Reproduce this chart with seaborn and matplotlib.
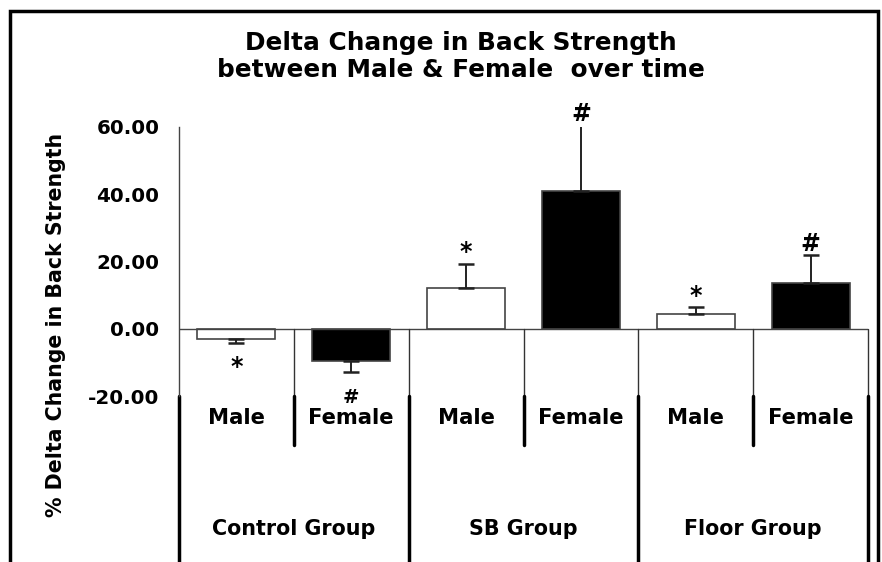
import matplotlib
matplotlib.use("Agg")
import matplotlib.pyplot as plt
import seaborn as sns
import pandas as pd
import numpy as np
from matplotlib.patches import Rectangle

groups = ["Control Group", "SB Group", "Floor Group"]
sexes = ["Male", "Female"]
values = [-2.9, -9.6, 12.2, 41.0, 4.5, 13.6]
errors = [1.3, 3.2, 7.1, 19.5, 1.9, 8.2]
marks = ["*", "#", "*", "#", "*", "#"]
yticks = [-20, 0, 20, 40, 60]

sns.set_theme(style="white")
plt.rcParams['font.family'] = ['DejaVu Sans']
plt.rcParams['text.color'] = 'black'
plt.rcParams['axes.labelcolor'] = 'black'
plt.rcParams['ytick.color'] = 'black'
plt.rcParams['xtick.color'] = 'black'

labels = [f"{g}|{s}" for g in groups for s in sexes]
df = pd.DataFrame({"cat": labels, "value": values,
                   "sex": [s for g in groups for s in sexes]})

fig = plt.figure(figsize=(8.82, 5.62), dpi=100)
ax = fig.add_axes([179/882, (562-396)/562, 689/882, (396-127)/562])

sns.barplot(data=df, x="cat", y="value", hue="sex", order=labels,
            palette={"Male": "white", "Female": "black"}, edgecolor="#444444",
            linewidth=1.2, width=0.68, dodge=False, legend=False, ax=ax)

xs = np.arange(len(values))
for x, v, e, m in zip(xs, values, errors, marks):
    if v >= 0:
        ax.errorbar(x, v, yerr=[[0], [e]], fmt="none", ecolor="#222222",
                    elinewidth=1.4, capsize=6, capthick=1.8)
        ax.text(x, v + e + 3.4, m, ha="center", va="center", fontsize=17,
                fontweight="bold", clip_on=False)
    else:
        ax.errorbar(x, v, yerr=[[e], [0]], fmt="none", ecolor="#222222",
                    elinewidth=1.4, capsize=6, capthick=1.8)
        off = 7.2 if m == "*" else 7.5
        ax.text(x, v - e - off, m, ha="center", va="center",
                fontsize=17 if m == "*" else 14, fontweight="bold", clip_on=False)

ax.set_xlim(-0.5, 5.5)
ax.set_ylim(-20, 60)
ax.set_yticks(yticks)
ax.set_yticklabels([f"{t:.2f}" for t in yticks], fontsize=14.3, fontweight="bold")
ax.set_xticks([])
ax.set_xlabel("")
ax.set_ylabel("% Delta Change in Back Strength", fontsize=14.8, fontweight="bold")
ax.yaxis.set_label_coords(-0.164, 0.264)
for s in ["top", "right", "bottom"]:
    ax.spines[s].set_visible(False)
ax.spines["left"].set_color("#444444")
ax.spines["left"].set_linewidth(1.0)
ax.tick_params(axis="y", direction="out", length=6, width=1.0, color="#444444", pad=8)

# zero line
ax.axhline(0, color="#444444", lw=1.0)

# separators
y_inner = -34.6
y_bottom = -70
for xb in [0.5, 1.5, 2.5, 3.5, 4.5, 5.5]:
    ax.plot([xb, xb], [0, -20], color="#333333", lw=1.0, clip_on=False)
for xb in [0.5, 2.5, 4.5]:
    ax.plot([xb, xb], [-20, y_inner], color="black", lw=2.5, clip_on=False)
for xb in [-0.5, 1.5, 3.5, 5.5]:
    ax.plot([xb, xb], [-20, y_bottom], color="black", lw=2.5, clip_on=False)

# category labels
for x, lab in zip(xs, labels):
    ax.text(x, -26.5, lab.split("|")[1], ha="center", va="center",
            fontsize=15.2, fontweight="bold", clip_on=False)
for i, g in enumerate(groups):
    ax.text(2 * i + 0.5, -59.6, g, ha="center", va="center",
            fontsize=14.9, fontweight="bold", clip_on=False)

fig.text(461/882, 1 - 43/562, "Delta Change in Back Strength", ha="center", va="center",
         fontsize=17.8, fontweight="bold")
fig.text(461/882, 1 - 70/562, "between Male & Female  over time", ha="center", va="center",
         fontsize=17.8, fontweight="bold")

# figure border
fig.patches.append(Rectangle((10/882, -0.05), (878-10)/882, 1.05 - 11/562, transform=fig.transFigure,
                             fill=False, edgecolor="black", lw=2.5))

fig.savefig("out.png", dpi=100, facecolor="white")
